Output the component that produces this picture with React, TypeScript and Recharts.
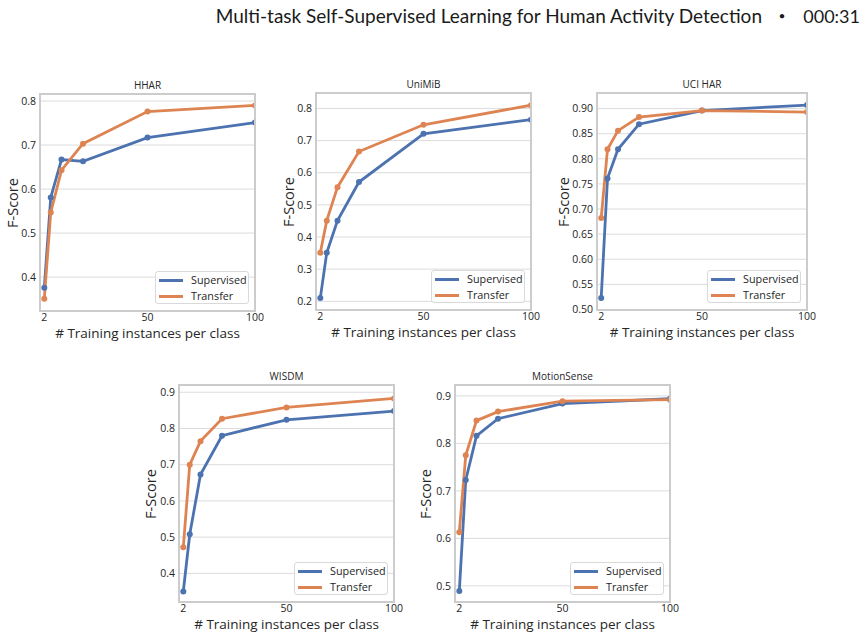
import React from 'react';
import { LineChart, Line, XAxis, YAxis, CartesianGrid, Legend } from 'recharts';

const xValues = [2, 5, 10, 20, 50, 100];
const xTicks = [2, 50, 100];

const hharSupervised = [0.376, 0.581, 0.667, 0.663, 0.717, 0.751];
const hharTransfer = [0.351, 0.547, 0.643, 0.703, 0.776, 0.79];
const unimibSupervised = [0.21, 0.351, 0.451, 0.571, 0.721, 0.765];
const unimibTransfer = [0.351, 0.451, 0.555, 0.666, 0.749, 0.81];
const uciSupervised = [0.523, 0.761, 0.819, 0.869, 0.896, 0.907];
const uciTransfer = [0.682, 0.819, 0.856, 0.883, 0.896, 0.893];
const wisdmSupervised = [0.35, 0.508, 0.673, 0.78, 0.824, 0.848];
const wisdmTransfer = [0.472, 0.7, 0.765, 0.827, 0.858, 0.883];
const motionSupervised = [0.489, 0.723, 0.816, 0.852, 0.884, 0.894];
const motionTransfer = [0.613, 0.775, 0.848, 0.867, 0.889, 0.892];

const hharTicks = [0.4, 0.5, 0.6, 0.7, 0.8];
const unimibTicks = [0.2, 0.3, 0.4, 0.5, 0.6, 0.7, 0.8];
const uciTicks = [0.5, 0.55, 0.6, 0.65, 0.7, 0.75, 0.8, 0.85, 0.9];
const wisdmTicks = [0.4, 0.5, 0.6, 0.7, 0.8, 0.9];
const motionTicks = [0.5, 0.6, 0.7, 0.8, 0.9];

const seriesNames = ['Supervised', 'Transfer'];
const seriesColors = ['#4c72b0', '#dd8452'];

const FONT = '"Open Sans", "DejaVu Sans", sans-serif';
const TEXT = '#262626';

type Panel = {
  title: string;
  sup: number[];
  tr: number[];
  ticks: number[];
  decimals: number;
  domain: [number, number];
  box: { l: number; t: number; r: number; b: number };
  yLabelOffset: number;
};

const panels: Panel[] = [
  { title: 'HHAR', sup: hharSupervised, tr: hharTransfer, ticks: hharTicks, decimals: 1, domain: [0.323, 0.816], box: { l: 40, t: 94, r: 255, b: 311 }, yLabelOffset: 28 },
  { title: 'UniMiB', sup: unimibSupervised, tr: unimibTransfer, ticks: unimibTicks, decimals: 1, domain: [0.173, 0.848], box: { l: 316, t: 93, r: 531, b: 310 }, yLabelOffset: 28 },
  { title: 'UCI HAR', sup: uciSupervised, tr: uciTransfer, ticks: uciTicks, decimals: 2, domain: [0.499, 0.931], box: { l: 597, t: 93, r: 807, b: 310 }, yLabelOffset: 34 },
  { title: 'WISDM', sup: wisdmSupervised, tr: wisdmTransfer, ticks: wisdmTicks, decimals: 1, domain: [0.321, 0.92], box: { l: 179, t: 385, r: 394, b: 602 }, yLabelOffset: 29 },
  { title: 'MotionSense', sup: motionSupervised, tr: motionTransfer, ticks: motionTicks, decimals: 1, domain: [0.466, 0.923], box: { l: 455, t: 385, r: 670, b: 602 }, yLabelOffset: 30 },
];

const ML = 45;
const MT = 5;
const MR = 18;
const XH = 22;
const LEG_W = 94;
const LEG_H = 33;

const LegendBox = () => (
  <div
    style={{
      width: LEG_W,
      height: LEG_H,
      boxSizing: 'border-box',
      border: '1px solid #d9d9d9',
      borderRadius: 3,
      background: 'rgba(255,255,255,0.85)',
      padding: '0 0 0 3px',
      fontFamily: FONT,
      fontSize: 10.8,
      color: TEXT,
    }}
  >
    {seriesNames.map((n, i) => (
      <div key={n} style={{ display: 'flex', alignItems: 'center', height: 16 }}>
        <div style={{ width: 24, height: 3, background: seriesColors[i], marginRight: 8 }} />
        <span style={{ lineHeight: '16px' }}>{n}</span>
      </div>
    ))}
  </div>
);

const PanelChart = ({ p }: { p: Panel }) => {
  const { l, t, r, b } = p.box;
  const w = r - l;
  const h = b - t;
  const chartLeft = l - ML;
  const chartTop = t - MT;
  const W = ML + w + MR;
  const H = MT + h + XH;
  const data = xValues.map((x, i) => ({ x, sup: p.sup[i], tr: p.tr[i] }));
  const tickStyle = { fontSize: 10.5, fill: TEXT, fontFamily: FONT };
  return (
    <>
      <div style={{ position: 'absolute', left: chartLeft, top: chartTop }}>
        <LineChart width={W} height={H} data={data} margin={{ top: MT, right: MR, left: 0, bottom: 0 }} style={{ fontFamily: FONT }}>
          <CartesianGrid horizontal vertical={false} stroke="#dcdcdc" strokeWidth={1} />
          <XAxis
            dataKey="x"
            type="number"
            domain={[0, 100]}
            ticks={xTicks}
            allowDataOverflow
            axisLine={false}
            tickLine={false}
            tickSize={3}
            tickMargin={0}
            height={XH}
            tick={tickStyle}
            interval={0}
          />
          <YAxis
            type="number"
            domain={p.domain}
            ticks={p.ticks}
            allowDataOverflow
            axisLine={false}
            tickLine={false}
            tickSize={4}
            tickMargin={0}
            width={ML}
            tick={tickStyle}
            interval={0}
            tickFormatter={(v: number) => v.toFixed(p.decimals)}
          />
          <Line
            dataKey="sup"
            name={seriesNames[0]}
            stroke={seriesColors[0]}
            strokeWidth={2.8}
            dot={{ r: 3, fill: seriesColors[0], stroke: seriesColors[0], strokeWidth: 0 }}
            isAnimationActive={false}
          />
          <Line
            dataKey="tr"
            name={seriesNames[1]}
            stroke={seriesColors[1]}
            strokeWidth={2.8}
            dot={{ r: 3, fill: seriesColors[1], stroke: seriesColors[1], strokeWidth: 0 }}
            isAnimationActive={false}
          />
          <Legend
            layout="horizontal"
            verticalAlign="middle"
            align="center"
            wrapperStyle={{ left: r - 6 - LEG_W - chartLeft, top: b - 7 - LEG_H - chartTop, width: LEG_W, height: LEG_H }}
            content={() => <LegendBox />}
          />
        </LineChart>
      </div>
      <div
        style={{
          position: 'absolute',
          left: l - 1.25,
          top: t - 1.25,
          width: w + 2.5,
          height: h + 2.5,
          boxSizing: 'border-box',
          border: '2.5px solid #cccccc',
          pointerEvents: 'none',
        }}
      />
      <div
        style={{
          position: 'absolute',
          left: (l + r) / 2,
          top: t - 9,
          transform: 'translate(-50%, -50%)',
          fontFamily: FONT,
          fontSize: 10,
          color: TEXT,
          whiteSpace: 'nowrap',
        }}
      >
        {p.title}
      </div>
      <div
        style={{
          position: 'absolute',
          left: (l + r) / 2,
          top: b + 22,
          transform: 'translate(-50%, -50%)',
          fontFamily: FONT,
          fontSize: 13.5,
          color: TEXT,
          whiteSpace: 'nowrap',
        }}
      >
        # Training instances per class
      </div>
      <div
        style={{
          position: 'absolute',
          left: l - p.yLabelOffset,
          top: (t + b) / 2,
          transform: 'translate(-50%, -50%) rotate(-90deg)',
          fontFamily: FONT,
          fontSize: 14.5,
          color: TEXT,
          whiteSpace: 'nowrap',
        }}
      >
        F-Score
      </div>
    </>
  );
};

const HEADER_FONT = 'Lato, sans-serif';

export default function App() {
  return (
    <div style={{ position: 'absolute', left: 0, top: 0, width: 866, height: 640, background: '#ffffff', overflow: 'hidden' }}>
      <div
        style={{
          position: 'absolute',
          right: 866 - 762,
          top: 6,
          fontFamily: HEADER_FONT,
          fontSize: 19,
          lineHeight: '20px',
          color: '#1a1a1a',
          whiteSpace: 'nowrap',
        }}
      >
        Multi-task Self-Supervised Learning for Human Activity Detection
      </div>
      <div style={{ position: 'absolute', left: 782, top: 6, transform: 'translateX(-50%)', fontFamily: HEADER_FONT, fontSize: 12, lineHeight: '20px', color: '#1a1a1a' }}>•</div>
      <div style={{ position: 'absolute', right: 866 - 860, top: 6, fontFamily: HEADER_FONT, fontSize: 18, lineHeight: '20px', color: '#1a1a1a' }}>000:31</div>
      {panels.map((p) => (
        <PanelChart key={p.title} p={p} />
      ))}
    </div>
  );
}
